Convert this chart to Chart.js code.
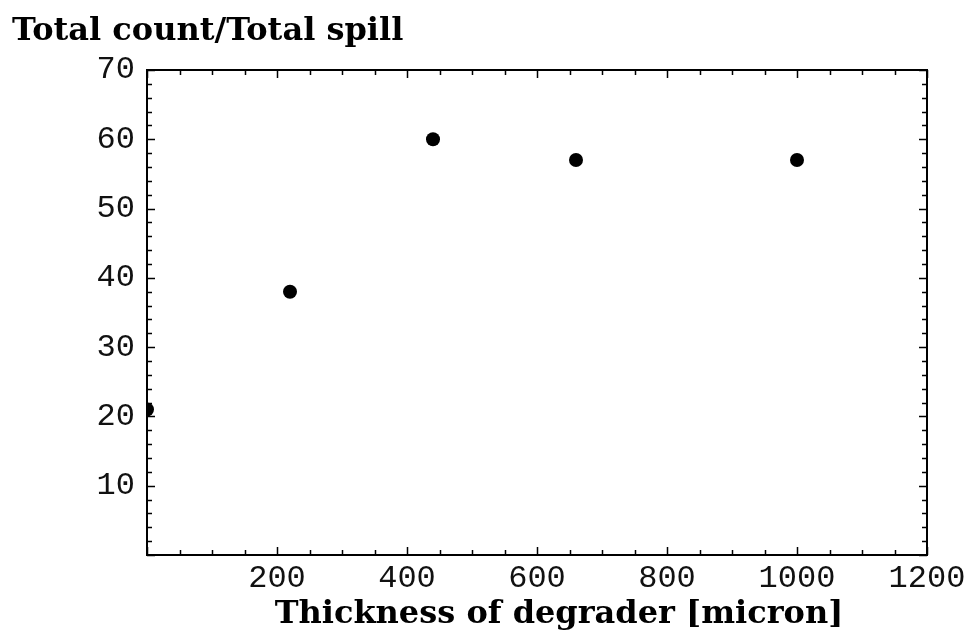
<!DOCTYPE html>
<html>
<head>
<meta charset="utf-8">
<script src="https://cdn.jsdelivr.net/npm/chart.js@4"></script>
<style>
    body { margin: 0; background: #fff; }
    canvas { display: block; }
</style>
</head>
<body>
<canvas id="grafico" width="974" height="639"></canvas>
<script>
// Datos
const espesores = [0, 220, 440, 660, 1000];
const cuentas = [21, 38, 60, 57, 57];

const titulo = 'Total count/Total spill';
const tituloX = 'Thickness of degrader [micron]';

// Rangos y marcas de los ejes
const rangoX = [0, 1200];
const rangoY = [0, 70];
const pasoX = 200;
const pasoY = 10;
const pasoMenorX = 50;
const pasoMenorY = 2;

// Plugin para el marco y las marcas hacia adentro (estilo Mathematica)
const marcoPlugin = {
    id: 'marco',
    afterDraw(chart) {
        const { ctx, chartArea } = chart;
        const x = chart.scales.x;
        const y = chart.scales.y;
        ctx.save();
        ctx.strokeStyle = '#000';
        ctx.lineWidth = 1.5;

        // Marcas del eje x (abajo y arriba)
        for (let v = rangoX[0]; v <= rangoX[1]; v += pasoMenorX) {
            const px = Math.round(x.getPixelForValue(v)) + 0.5;
            const largo = v % pasoX === 0 ? 8 : 5;
            ctx.beginPath();
            ctx.moveTo(px, chartArea.bottom);
            ctx.lineTo(px, chartArea.bottom - largo);
            ctx.moveTo(px, chartArea.top);
            ctx.lineTo(px, chartArea.top + largo);
            ctx.stroke();
        }

        // Marcas del eje y (izquierda y derecha)
        for (let v = rangoY[0]; v <= rangoY[1]; v += pasoMenorY) {
            const py = Math.round(y.getPixelForValue(v)) + 0.5;
            const largo = v % pasoY === 0 ? 8 : 5;
            ctx.beginPath();
            ctx.moveTo(chartArea.left, py);
            ctx.lineTo(chartArea.left + largo, py);
            ctx.moveTo(chartArea.right, py);
            ctx.lineTo(chartArea.right - largo, py);
            ctx.stroke();
        }

        // Marco
        ctx.lineWidth = 2;
        ctx.strokeRect(chartArea.left, chartArea.top,
            chartArea.right - chartArea.left, chartArea.bottom - chartArea.top);

        // Título del eje x (algo corrido a la derecha, como en el original)
        ctx.fillStyle = '#000';
        ctx.font = 'bold 32px "DejaVu Serif"';
        ctx.textAlign = 'center';
        ctx.textBaseline = 'middle';
        ctx.fillText(tituloX, (chartArea.left + chartArea.right) / 2 + 22, 615);
        ctx.restore();
    }
};

const ctx = document.getElementById('grafico').getContext('2d');
new Chart(ctx, {
    type: 'scatter',
    data: {
        datasets: [{
            data: espesores.map((e, i) => ({ x: e, y: cuentas[i] })),
            backgroundColor: '#000',
            borderColor: '#000',
            borderWidth: 0,
            pointRadius: 7,
            pointHoverRadius: 7,
            clip: 0
        }]
    },
    options: {
        responsive: false,
        animation: false,
        layout: {
            padding: { left: 12, right: 47, top: 0, bottom: 0 }
        },
        plugins: {
            legend: { display: false },
            tooltip: { enabled: false },
            title: {
                display: true,
                text: titulo,
                align: 'start',
                color: '#000',
                font: { family: 'DejaVu Serif', size: 32, weight: 'bold' },
                padding: { top: 12, bottom: 19.6 }
            }
        },
        scales: {
            x: {
                type: 'linear',
                min: rangoX[0],
                max: rangoX[1],
                grid: { display: false, drawTicks: false },
                border: { display: false },
                ticks: {
                    stepSize: pasoX,
                    color: '#111',
                    padding: 4,
                    maxRotation: 0,
                    font: { family: 'Liberation Mono', size: 32 },
                    callback: v => v === 0 ? '' : v
                },
                afterFit(scale) {
                    scale.height = 84;
                    scale.paddingLeft = 0;
                    scale.paddingRight = 0;
                }
            },
            y: {
                type: 'linear',
                min: rangoY[0],
                max: rangoY[1],
                grid: { display: false, drawTicks: false },
                border: { display: false },
                ticks: {
                    stepSize: pasoY,
                    color: '#111',
                    padding: 12,
                    font: { family: 'Liberation Mono', size: 32 },
                    callback: v => v === 0 ? '' : v
                },
                afterFit(scale) {
                    scale.width = 135;
                    scale.paddingTop = 0;
                    scale.paddingBottom = 0;
                }
            }
        }
    },
    plugins: [marcoPlugin]
});
</script>
</body>
</html>
